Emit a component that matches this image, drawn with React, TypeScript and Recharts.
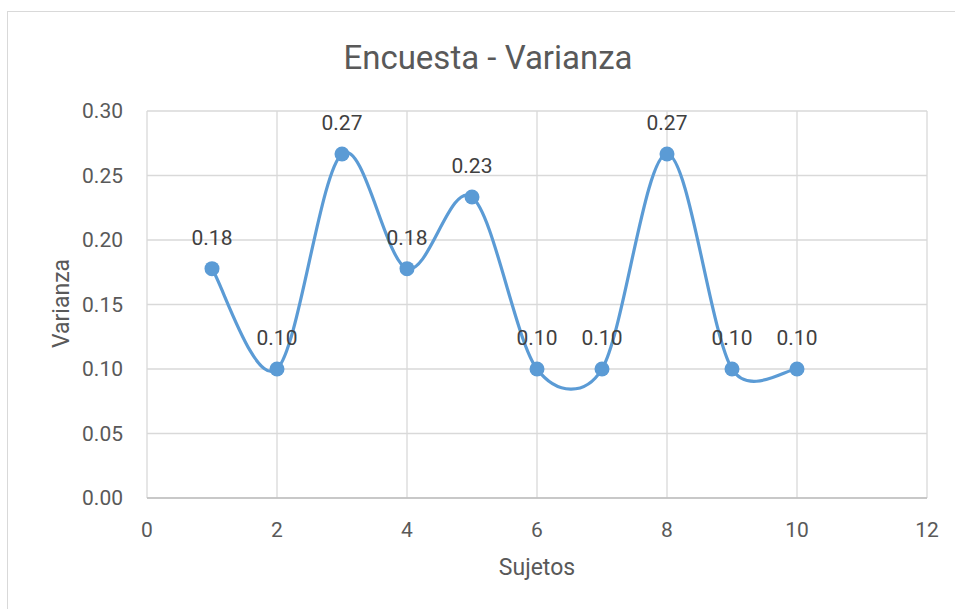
import React from 'react';
import { LineChart, Line, XAxis, YAxis, CartesianGrid, LabelList } from 'recharts';

const subjects = [1, 2, 3, 4, 5, 6, 7, 8, 9, 10];
const variance = [0.1778, 0.1, 0.2667, 0.1778, 0.2333, 0.1, 0.1, 0.2667, 0.1, 0.1];
const xTicks = [0, 2, 4, 6, 8, 10, 12];
const yTicks = [0, 0.05, 0.1, 0.15, 0.2, 0.25, 0.3];

const data = subjects.map((s, i) => ({ x: s, y: variance[i] }));

const FONT = 'Roboto, "Noto Sans", sans-serif';

// Excel-like smoothed line (Catmull-Rom style Bezier)
function excelCurve(context: any) {
  let pts: [number, number][] = [];
  return {
    areaStart() {},
    areaEnd() {},
    lineStart() {
      pts = [];
    },
    point(x: number, y: number) {
      pts.push([+x, +y]);
    },
    lineEnd() {
      const n = pts.length;
      if (n === 0) return;
      context.moveTo(pts[0][0], pts[0][1]);
      if (n === 1) return;
      const t = 1 / 6;
      for (let i = 0; i < n - 1; i++) {
        const p0 = pts[Math.max(0, i - 1)];
        const p1 = pts[i];
        const p2 = pts[i + 1];
        const p3 = pts[Math.min(n - 1, i + 2)];
        const seg = Math.hypot(p2[0] - p1[0], p2[1] - p1[1]);
        let c1x = (p2[0] - p0[0]) * t;
        let c1y = (p2[1] - p0[1]) * t;
        let c2x = (p3[0] - p1[0]) * t;
        let c2y = (p3[1] - p1[1]) * t;
        const lim = 0.5 * seg;
        const l1 = Math.hypot(c1x, c1y);
        if (l1 > lim) {
          c1x *= lim / l1;
          c1y *= lim / l1;
        }
        const l2 = Math.hypot(c2x, c2y);
        if (l2 > lim) {
          c2x *= lim / l2;
          c2y *= lim / l2;
        }
        context.bezierCurveTo(p1[0] + c1x, p1[1] + c1y, p2[0] - c2x, p2[1] - c2y, p2[0], p2[1]);
      }
    },
  };
}

const renderLabel = (props: any) => {
  const { x, y, value } = props;
  return (
    <text
      x={x}
      y={y - 31}
      textAnchor="middle"
      dominantBaseline="central"
      fill="#404040"
      fontSize={21}
      fontFamily={FONT}
    >
      {Number(value).toFixed(2)}
    </text>
  );
};

export default function App() {
  return (
    <div
      style={{
        position: 'absolute',
        left: 0,
        top: 0,
        width: 955,
        height: 609,
        overflow: 'hidden',
        background: '#ffffff',
        fontFamily: FONT,
      }}
    >
      <div
        style={{
          position: 'absolute',
          left: 7,
          top: 11,
          width: 1100,
          height: 800,
          border: '1px solid #d9d9d9',
          boxSizing: 'border-box',
        }}
      />
      <div
        style={{
          position: 'absolute',
          left: 188,
          width: 600,
          top: 40.5,
          fontSize: 33,
          lineHeight: '33px',
          textAlign: 'center',
          color: '#595959',
        }}
      >
        Encuesta - Varianza
      </div>
      <div
        style={{
          position: 'absolute',
          left: 437,
          width: 200,
          top: 556,
          fontSize: 23,
          lineHeight: '23px',
          textAlign: 'center',
          color: '#595959',
        }}
      >
        Sujetos
      </div>
      <div
        style={{
          position: 'absolute',
          left: 61 - 100,
          width: 200,
          top: 304 - 12,
          fontSize: 23,
          lineHeight: '23px',
          textAlign: 'center',
          color: '#595959',
          transform: 'rotate(-90deg)',
        }}
      >
        Varianza
      </div>
      <div style={{ position: 'absolute', left: 0, top: 0 }}>
        <LineChart
          width={955}
          height={609}
          data={data}
          margin={{ top: 111, right: 28, bottom: 71, left: 67 }}
        >
          <CartesianGrid stroke="#d9d9d9" strokeWidth={1.3} />
          <XAxis
            type="number"
            dataKey="x"
            domain={[0, 12]}
            ticks={xTicks}
            height={40}
            tickLine={false}
            tickSize={0}
            tickMargin={24}
            axisLine={{ stroke: '#bfbfbf', strokeWidth: 1.5 }}
            tick={{ fill: '#595959', fontSize: 21, fontFamily: FONT }}
            allowDecimals={false}
          />
          <YAxis
            type="number"
            domain={[0, 0.3]}
            ticks={yTicks}
            width={80}
            tickLine={false}
            tickSize={0}
            tickMargin={24}
            axisLine={false}
            tickFormatter={(v: number) => v.toFixed(2)}
            tick={{ fill: '#595959', fontSize: 21, fontFamily: FONT }}
          />
          <Line
            dataKey="y"
            type={excelCurve as any}
            stroke="#5b9bd5"
            strokeWidth={3.2}
            dot={{ r: 7.5, fill: '#5b9bd5', stroke: '#5b9bd5', strokeWidth: 0 }}
            activeDot={false}
            isAnimationActive={false}
          >
            <LabelList dataKey="y" content={renderLabel} />
          </Line>
        </LineChart>
      </div>
    </div>
  );
}
